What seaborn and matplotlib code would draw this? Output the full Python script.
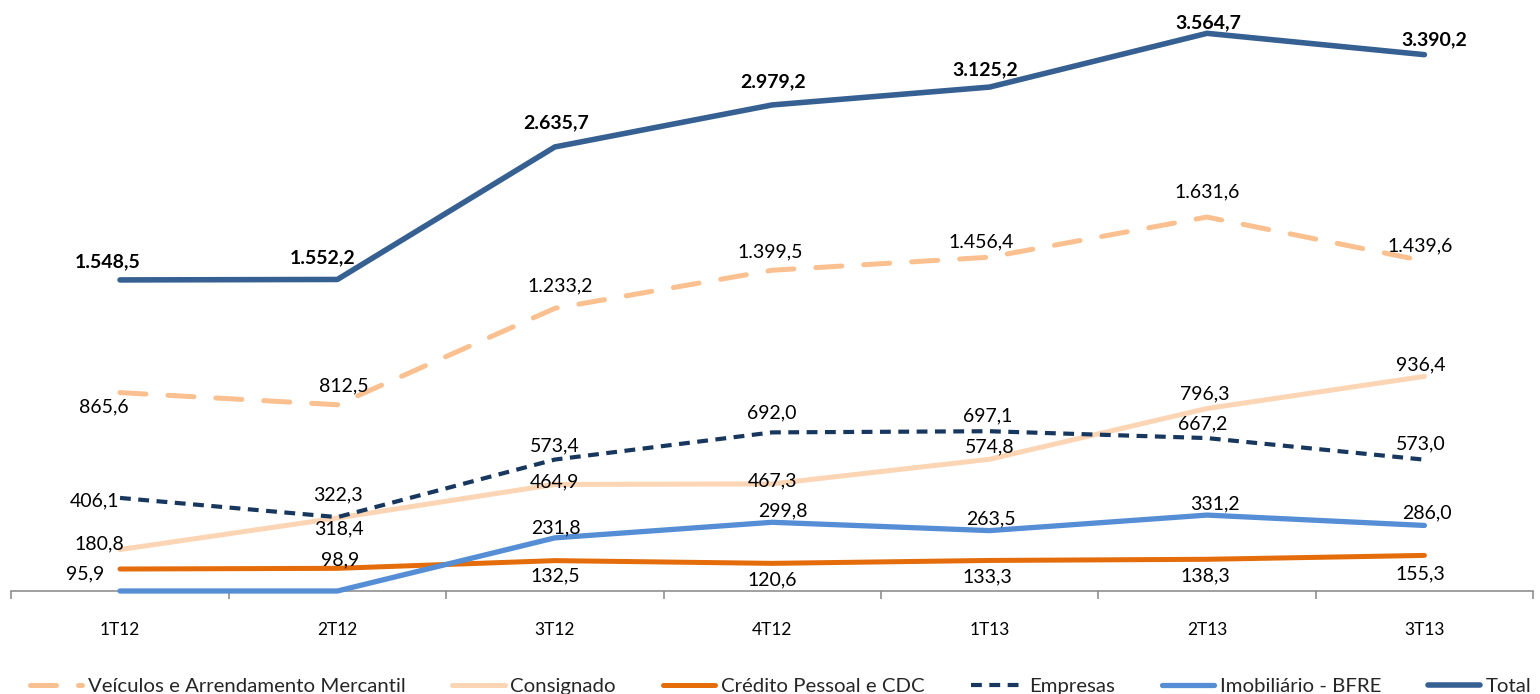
import pandas as pd
import matplotlib.pyplot as plt
import seaborn as sns

# dados (R$ milhões) por trimestre
trimestres = ['1T12', '2T12', '3T12', '4T12', '1T13', '2T13', '3T13']
veiculos = [865.6, 812.5, 1233.2, 1399.5, 1456.4, 1631.6, 1439.6]
consignado = [180.8, 318.4, 464.9, 467.3, 574.8, 796.3, 936.4]
credito_pessoal = [95.9, 98.9, 132.5, 120.6, 133.3, 138.3, 155.3]
empresas = [406.1, 322.3, 573.4, 692.0, 697.1, 667.2, 573.0]
imobiliario = [0.0, 0.0, 231.8, 299.8, 263.5, 331.2, 286.0]
total = [1548.5, 1552.2, 2635.7, 2979.2, 3125.2, 3564.7, 3390.2]

nomes = ['Veículos e Arrendamento Mercantil', 'Consignado', 'Crédito Pessoal e CDC',
         'Empresas', 'Imobiliário - BFRE', 'Total']

df = pd.DataFrame({'pos': range(len(trimestres)), 'trimestre': trimestres})
for nome, vals in zip(nomes, [veiculos, consignado, credito_pessoal, empresas, imobiliario, total]):
    df[nome] = vals

# estilo de cada série
estilos = {
    'Veículos e Arrendamento Mercantil': dict(color='#FAC090', lw=3.6, ls=(0, (5.2, 4.4)), cap='round'),
    'Consignado': dict(color='#FCD5B5', lw=3.6, ls='-', cap='round'),
    'Crédito Pessoal e CDC': dict(color='#E46C0A', lw=3.6, ls='-', cap='round'),
    'Empresas': dict(color='#17375E', lw=3.0, ls=(0, (2.6, 1.8)), cap='butt'),
    'Imobiliário - BFRE': dict(color='#558ED5', lw=3.8, ls='-', cap='round'),
    'Total': dict(color='#376092', lw=4.0, ls='-', cap='round'),
}

# deslocamento dos rótulos (pixels: dx, dy para cima)
offsets = {
    'Veículos e Arrendamento Mercantil': [(-16, -14), (6, 19), (5, 22), (-2, 18), (-8, 15), (0, 25), (-4, 15)],
    'Consignado': [(-21, 6), (2, -11), (0, 3), (0, 3), (0, 12), (-2, 15), (-4, 12)],
    'Crédito Pessoal e CDC': [(-35, -5), (3, 8), (0, -15), (0, -17), (-2, -16), (-2, -17), (-4, -18)],
    'Empresas': [(-25, -3), (1, 22), (0, 14), (0, 20), (-2, 15), (-4, 14), (-4, 16)],
    'Imobiliário - BFRE': [(0, 0), (0, 0), (1, 10), (11, 11), (1, 12), (8, 11), (3, 13)],
    'Total': [(-12, 18), (-15, 22), (1, 24), (1, 23), (-4, 17), (1, 11), (10, 15)],
}

sns.set_theme(style='white')
plt.rcParams['font.family'] = ['Lato', 'DejaVu Sans']

W, H = 1540, 694
fig = plt.figure(figsize=(W / 100, H / 100), dpi=100)
x0, passo = 120, 217.4
left = x0 - 0.5 * passo
ax = fig.add_axes([left / W, 103 / H, 7 * passo / W, 573 / H])
ax2 = ax.twinx()

def fmt(v):
    s = f'{v:,.1f}'
    return s.replace(',', 'X').replace('.', ',').replace('X', '.')

for nome in nomes:
    st = estilos[nome]
    alvo = ax2 if nome == 'Total' else ax
    sns.lineplot(data=df, x='pos', y=nome, ax=alvo, color=st['color'], linewidth=st['lw'],
                 linestyle=st['ls'], label=nome, clip_on=False, zorder=3,
                 solid_capstyle='round', dash_capstyle=st['cap'], legend=False)
    peso = 'bold' if nome == 'Total' else 'normal'
    for i, v in enumerate(df[nome]):
        if v == 0:
            continue
        dx, dy = offsets[nome][i]
        alvo.annotate(fmt(v), (i, v), xytext=(dx, dy), textcoords='offset pixels',
                      ha='center', va='center', fontsize=14, fontweight=peso,
                      color='black', zorder=5, annotation_clip=False)

ax.set_xlim(-0.5, 6.5)
ax.set_ylim(0, 2500)
ax2.set_ylim(-995, 3690)

ax.set_xticks(range(len(trimestres)))
ax.set_xticklabels(trimestres, fontsize=12.5, color='black')
ax.set_xticks([i - 0.5 for i in range(len(trimestres) + 1)], minor=True)
ax.tick_params(axis='x', which='major', length=0, pad=22)
ax.tick_params(axis='x', which='minor', length=6, width=1.1, color='#868686', direction='out', bottom=True)
ax.set_yticks([])
ax2.set_yticks([])
ax.set(xlabel='', ylabel='')
ax2.set(xlabel='', ylabel='')

for a in (ax, ax2):
    for s in a.spines.values():
        s.set_visible(False)
ax.spines['bottom'].set_visible(True)
ax.spines['bottom'].set_color('#868686')
ax.spines['bottom'].set_linewidth(1.1)
ax.spines['bottom'].set_zorder(1)

h1, l1 = ax.get_legend_handles_labels()
h2, l2 = ax2.get_legend_handles_labels()
fig.legend(h1 + h2, l1 + l2, loc='center left', bbox_to_anchor=(30 / W, 8 / H), ncol=6,
           frameon=False, fontsize=14.7, handlelength=2.55, handletextpad=0.28,
           columnspacing=2.3, borderpad=0, borderaxespad=0)

fig.savefig('out.png', dpi=100)
